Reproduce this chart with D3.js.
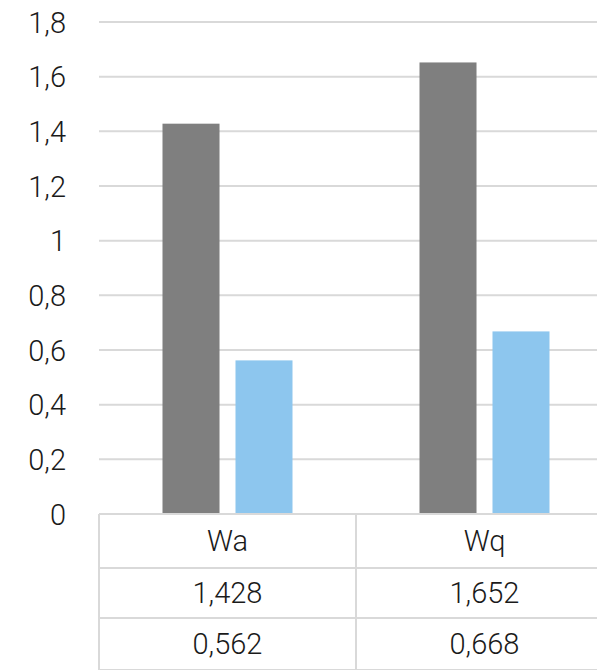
<!DOCTYPE html>
<html>
<head>
<meta charset="utf-8">
<script src="https://cdn.jsdelivr.net/npm/d3@7"></script>
<style>
  html, body { margin: 0; padding: 0; background: #fff; overflow: hidden; }
  svg { display: block; }
  text { font-family: Roboto, "Noto Sans", sans-serif; font-weight: 300; fill: #1a1a1a; }
</style>
</head>
<body>
<svg id="chart" width="597" height="670"></svg>
<script>
// Categories and the two series shown in the data table
const categories = ["Wa", "Wq"];
const seriesA = [1.428, 1.652];
const seriesB = [0.562, 0.668];
const yTicks = [0, 0.2, 0.4, 0.6, 0.8, 1, 1.2, 1.4, 1.6, 1.8];
const seriesColors = ["#7f7f7f", "#8dc6ee"];

const svg = d3.select("#chart");
const plotLeft = 99, plotRight = 613, plotTop = 22, plotBase = 514;
const rowLines = [514, 568, 618, 670];
const fmt = v => String(v).replace(".", ",");
const fmt3 = v => v.toFixed(3).replace(".", ",");

const y = d3.scaleLinear().domain([0, 1.8]).range([plotBase, plotTop]);
const x = d3.scaleBand().domain(categories).range([plotLeft, plotRight]);
const groupW = 130;
const x1 = d3.scaleBand().domain([0, 1])
  .range([(x.bandwidth() - groupW) / 2, (x.bandwidth() + groupW) / 2])
  .paddingInner(0.219);

// Horizontal gridlines
svg.append("g")
  .selectAll("line")
  .data(yTicks.filter(t => t > 0))
  .join("line")
  .attr("x1", plotLeft).attr("x2", plotRight)
  .attr("y1", d => y(d)).attr("y2", d => y(d))
  .attr("stroke", "#d9d9d9").attr("stroke-width", 2);

// Y axis labels
const yAxis = d3.axisLeft(y).tickValues(yTicks).tickFormat(fmt).tickSize(0).tickPadding(0);
const gy = svg.append("g").attr("transform", "translate(66,0)").call(yAxis);
gy.select(".domain").remove();
gy.selectAll("text")
  .attr("font-size", 29)
  .attr("font-family", "Roboto, 'Noto Sans', sans-serif")
  .attr("fill", "#1a1a1a")
  .attr("dy", "0.35em");

// Bars
const rows = categories.map((c, i) => ({ c, vals: [seriesA[i], seriesB[i]] }));
const groups = svg.append("g").selectAll("g")
  .data(rows).join("g")
  .attr("transform", d => `translate(${x(d.c)},0)`);
groups.selectAll("rect")
  .data(d => d.vals.map((v, k) => ({ v, k })))
  .join("rect")
  .attr("x", d => x1(d.k))
  .attr("width", x1.bandwidth())
  .attr("y", d => y(d.v))
  .attr("height", d => plotBase - y(d.v))
  .attr("fill", d => seriesColors[d.k]);

// Data table beneath the plot
const table = svg.append("g");
rowLines.forEach(ry => {
  table.append("line")
    .attr("x1", plotLeft).attr("x2", plotRight)
    .attr("y1", ry).attr("y2", ry)
    .attr("stroke", "#d9d9d9").attr("stroke-width", 2);
});
[plotLeft, ...categories.map(c => x(c) + x.bandwidth())].forEach(vx => {
  table.append("line")
    .attr("x1", vx).attr("x2", vx)
    .attr("y1", plotBase).attr("y2", 670)
    .attr("stroke", "#d9d9d9").attr("stroke-width", 2);
});
const cellText = [categories, seriesA.map(fmt3), seriesB.map(fmt3)];
cellText.forEach((row, r) => {
  row.forEach((t, i) => {
    table.append("text")
      .attr("x", x(categories[i]) + x.bandwidth() / 2)
      .attr("y", (rowLines[r] + rowLines[r + 1]) / 2)
      .attr("dy", "0.35em")
      .attr("text-anchor", "middle")
      .attr("font-size", 29)
      .text(t);
  });
});
</script>
</body>
</html>
